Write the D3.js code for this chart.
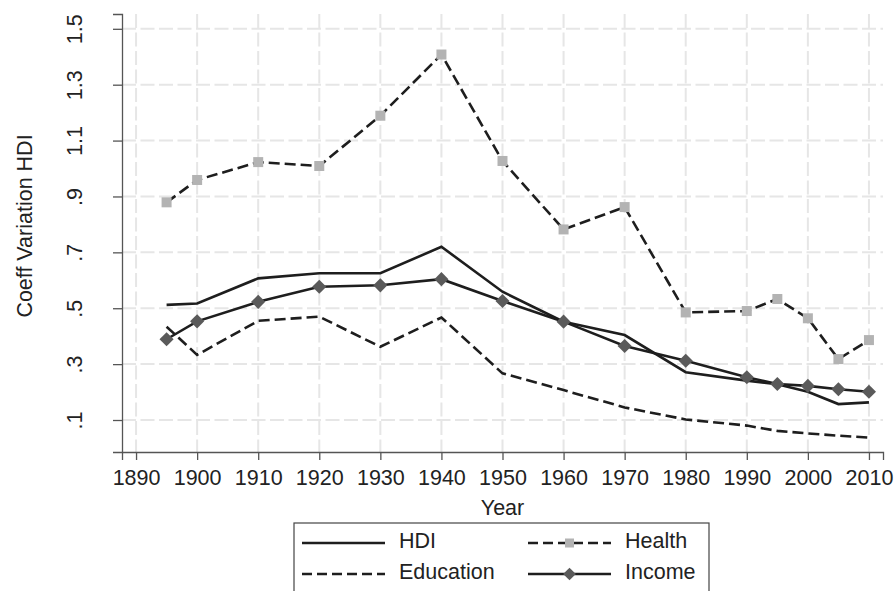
<!DOCTYPE html>
<html>
<head>
<meta charset="utf-8">
<script src="https://cdn.jsdelivr.net/npm/d3@7"></script>
<style>
  body { margin: 0; background: #fff; }
  svg { font-family: "Liberation Sans", Arial, sans-serif; }
</style>
</head>
<body>
<div id="chart"></div>
<script>
var years     = [1895, 1900, 1910, 1920, 1930, 1940, 1950, 1960, 1970, 1980, 1990, 1995, 2000, 2005, 2010];
var hdi       = [0.512, 0.517, 0.607, 0.625, 0.625, 0.720, 0.559, 0.452, 0.404, 0.271, 0.241, 0.228, 0.201, 0.157, 0.163];
var health    = [0.879, 0.959, 1.023, 1.009, 1.189, 1.408, 1.027, 0.782, 0.862, 0.485, 0.490, 0.533, 0.464, 0.318, 0.386];
var education = [0.434, 0.333, 0.455, 0.470, 0.362, 0.467, 0.267, 0.207, 0.145, 0.102, 0.080, 0.061, 0.052, 0.044, 0.037];
var income    = [0.389, 0.453, 0.523, 0.577, 0.582, 0.604, 0.526, 0.452, 0.365, 0.312, 0.253, 0.229, 0.222, 0.210, 0.201];
var xTicks = [1890, 1900, 1910, 1920, 1930, 1940, 1950, 1960, 1970, 1980, 1990, 2000, 2010];
var yTicks = [0.1, 0.3, 0.5, 0.7, 0.9, 1.1, 1.3, 1.5];

var width = 896, height = 591;
var pLeft = 122, pRight = 883, pTop = 14, pBottom = 452;
var fontSize = '21.5px';

var svg = d3.select('#chart').append('svg')
            .attr('width', width)
            .attr('height', height);

var x = d3.scaleLinear().domain([1887.7, 2012.3]).range([pLeft, pRight]);
var y = d3.scaleLinear().domain([-0.0145, 1.553]).range([pBottom, pTop]);

var fmt = function(d) { return d3.format('.1f')(d).replace(/^0\./, '.'); };

// grid
svg.append('g').selectAll('line').data(yTicks).enter().append('line')
   .attr('x1', pLeft).attr('x2', pRight)
   .attr('y1', function(d) { return y(d); }).attr('y2', function(d) { return y(d); })
   .style('stroke', '#e6e6e6').style('stroke-width', 2).style('stroke-dasharray', '14,4.5');
svg.append('g').selectAll('line').data(xTicks).enter().append('line')
   .attr('y1', pTop).attr('y2', pBottom)
   .attr('x1', function(d) { return x(d); }).attr('x2', function(d) { return x(d); })
   .style('stroke', '#e6e6e6').style('stroke-width', 2).style('stroke-dasharray', '14,4.5');

// axes
var xAxis = svg.append('g').attr('transform', 'translate(0,' + pBottom + ')')
   .call(d3.axisBottom(x).tickValues(xTicks).tickFormat(d3.format('d')).tickSize(8).tickPadding(4));
var yAxis = svg.append('g').attr('transform', 'translate(' + pLeft + ',0)')
   .call(d3.axisLeft(y).tickValues(yTicks).tickFormat(fmt).tickSize(9).tickPadding(4));
[xAxis, yAxis].forEach(function(a) {
  a.select('.domain').style('stroke', '#555').style('stroke-width', 1.3);
  a.selectAll('.tick line').style('stroke', '#555').style('stroke-width', 1.3);
  a.selectAll('text').style('font-size', fontSize).style('fill', '#222')
   .style('font-family', '"Liberation Sans", Arial, sans-serif');
});
xAxis.selectAll('text').attr('y', 33).attr('dy', 0);
yAxis.selectAll('text')
     .attr('transform', 'translate(-40,0) rotate(-90)')
     .attr('x', 0).attr('y', 0).attr('dy', 0)
     .style('text-anchor', 'middle');

// axis titles
svg.append('text').attr('x', (pLeft + pRight) / 2).attr('y', 515)
   .style('text-anchor', 'middle').style('font-size', fontSize).style('fill', '#222').text('Year');
svg.append('text').attr('transform', 'translate(' + 32 + ',' + 226 + ') rotate(-90)')
   .style('text-anchor', 'middle').style('font-size', fontSize).style('fill', '#222').text('Coeff Variation HDI');

var series = [
  { name: 'HDI', vals: hdi, dash: null, marker: null },
  { name: 'Education', vals: education, dash: '11,5', marker: null },
  { name: 'Income', vals: income, dash: null, marker: 'diamond' },
  { name: 'Health', vals: health, dash: '11,5', marker: 'square' }
];

var line = d3.line()
   .x(function(d) { return x(d[0]); })
   .y(function(d) { return y(d[1]); });

function drawMarker(g, type, cx, cy, s) {
  if (type === 'square') {
    g.append('rect').attr('x', cx - s / 2).attr('y', cy - s / 2)
     .attr('width', s).attr('height', s).style('fill', '#b3b3b3');
  } else if (type === 'diamond') {
    g.append('path').attr('transform', 'translate(' + cx + ',' + cy + ') rotate(45)')
     .attr('d', 'M' + (-s / 2) + ',' + (-s / 2) + 'h' + s + 'v' + s + 'h' + (-s) + 'Z')
     .style('fill', '#5a5a5a');
  }
}

series.forEach(function(s) {
  var pts = years.map(function(yr, i) { return [yr, s.vals[i]]; });
  svg.append('path').datum(pts).attr('d', line)
     .style('fill', 'none').style('stroke', '#1e1e1e').style('stroke-width', 2.6)
     .style('stroke-dasharray', s.dash);
  if (s.marker) {
    var g = svg.append('g');
    pts.forEach(function(p) { drawMarker(g, s.marker, x(p[0]), y(p[1]), 10); });
  }
});

// legend
var lg = svg.append('g');
lg.append('rect').attr('x', 294).attr('y', 523).attr('width', 415).attr('height', 80)
  .style('fill', '#fff').style('stroke', '#444').style('stroke-width', 1.2);
var legendItems = [
  { name: 'HDI', dash: null, marker: null, lx: 302, ly: 543 },
  { name: 'Health', dash: '10,5', marker: 'square', lx: 528, ly: 543 },
  { name: 'Education', dash: '10,5', marker: null, lx: 302, ly: 574 },
  { name: 'Income', dash: null, marker: 'diamond', lx: 528, ly: 574 }
];
legendItems.forEach(function(it) {
  lg.append('line').attr('x1', it.lx).attr('x2', it.lx + 83).attr('y1', it.ly).attr('y2', it.ly)
    .style('stroke', '#1e1e1e').style('stroke-width', 2.6).style('stroke-dasharray', it.dash);
  if (it.marker) drawMarker(lg, it.marker, it.lx + 41.5, it.ly, 9);
  lg.append('text').attr('x', it.lx + 97).attr('y', it.ly + 5)
    .style('font-size', fontSize).style('fill', '#222').text(it.name);
});
</script>
</body>
</html>
